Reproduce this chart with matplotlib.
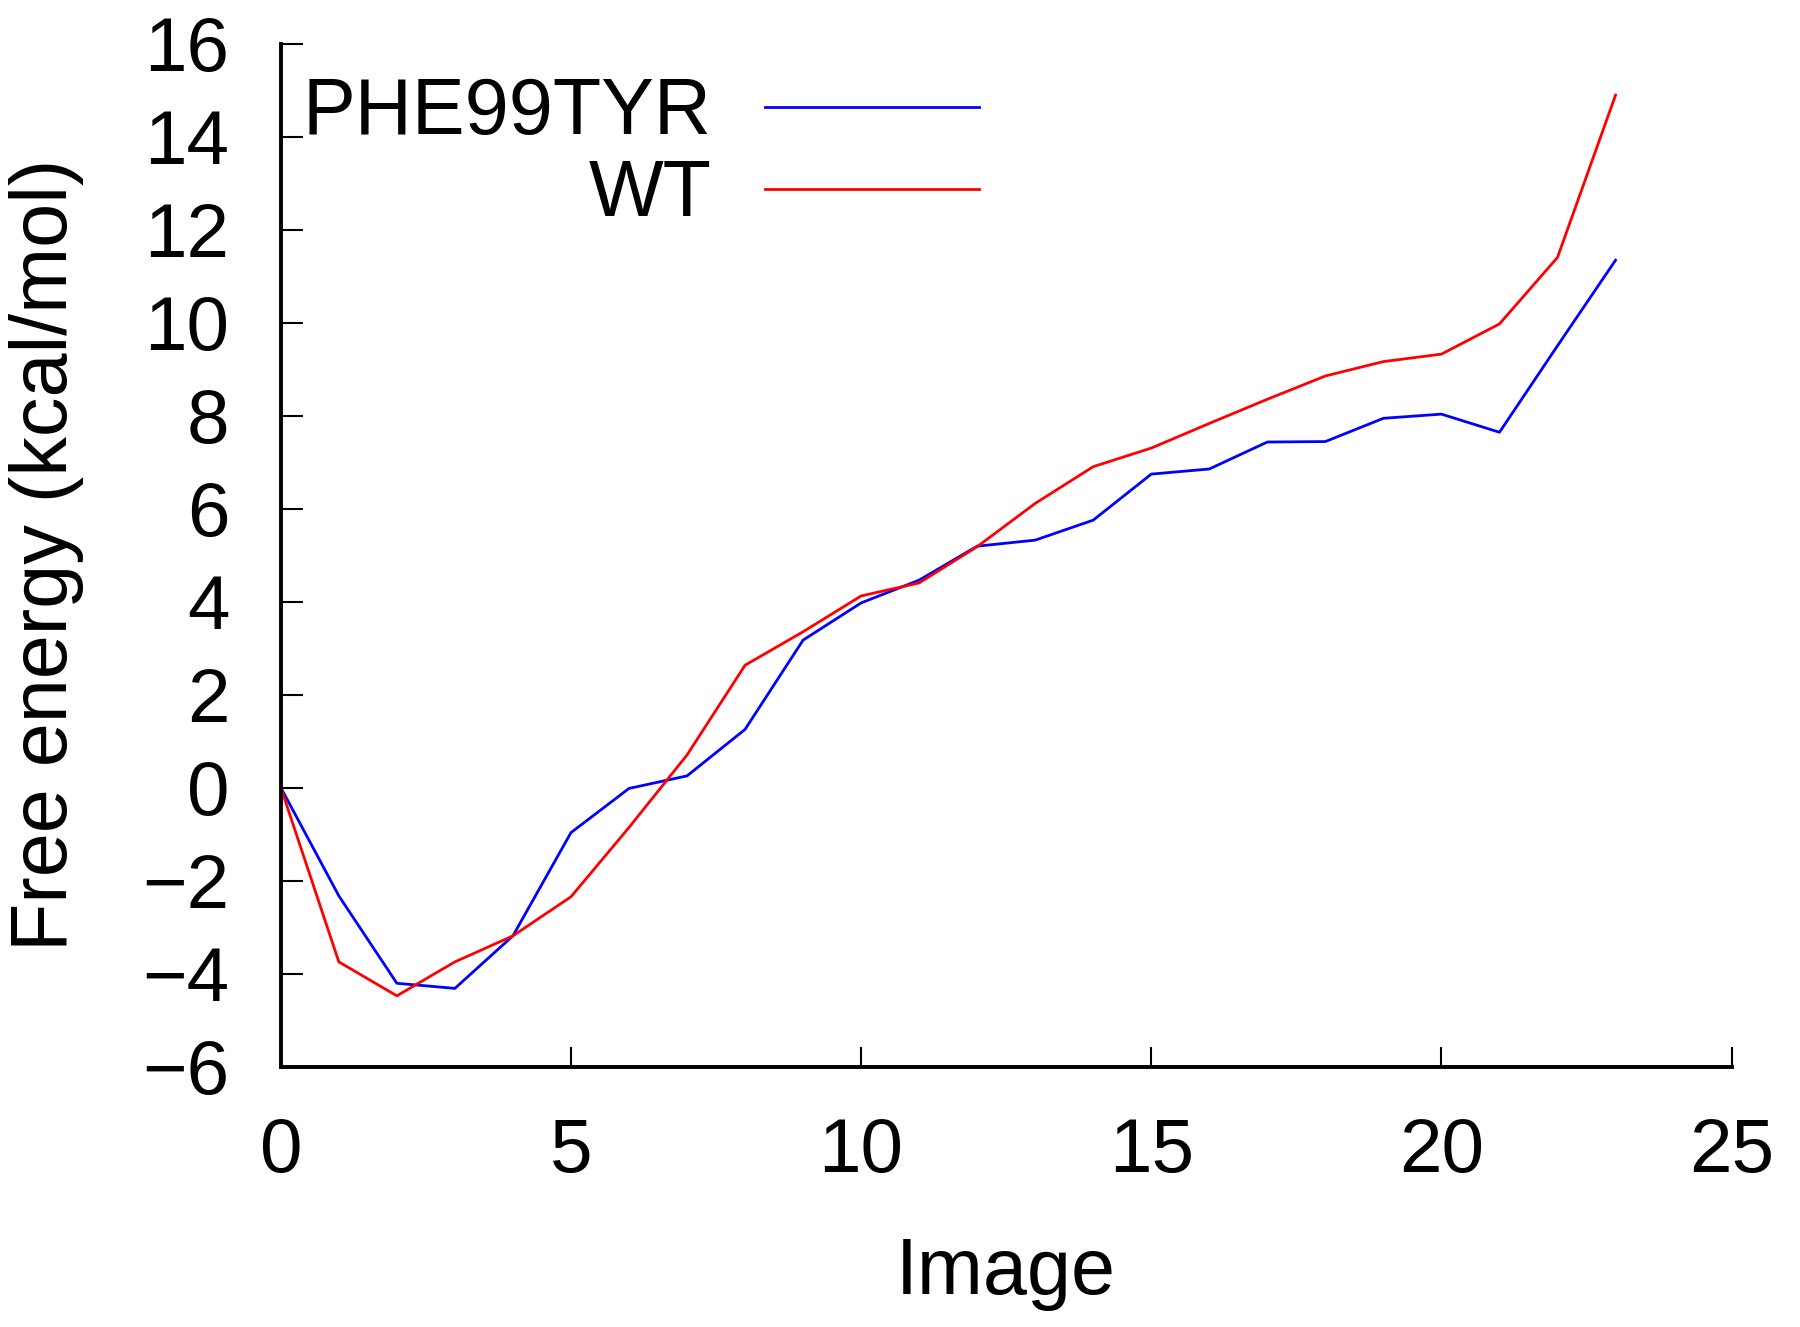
import matplotlib
matplotlib.use("Agg")
import matplotlib.pyplot as plt

plt.rcParams['font.family'] = ['Liberation Sans', 'DejaVu Sans']

images = list(range(24))
phe99tyr = [0.0, -2.33, -4.21, -4.32, -3.19, -0.97, -0.02, 0.25, 1.25, 3.17,
            3.97, 4.46, 5.19, 5.32, 5.75, 6.74, 6.85, 7.43, 7.44, 7.94,
            8.03, 7.64, 9.50, 11.34]
wt = [0.0, -3.75, -4.48, -3.75, -3.19, -2.35, -0.86, 0.70, 2.63, 3.35,
      4.12, 4.40, 5.18, 6.11, 6.90, 7.30, 7.83, 8.35, 8.85, 9.16,
      9.32, 9.97, 11.40, 14.89]
series_labels = ["PHE99TYR", "WT"]
series_colors = ["#0000ff", "#ff0000"]
xticks = [0, 5, 10, 15, 20, 25]
yticks = list(range(-6, 17, 2))

fig = plt.figure(figsize=(18, 13.27), dpi=100)
ax = fig.add_axes([0.156, 0.1963, 0.806, 0.7709])

for vals, lab, col in zip([phe99tyr, wt], series_labels, series_colors):
    ax.plot(images, vals, color=col, lw=2.0, label=lab)

ax.set_xlim(0, 25)
ax.set_ylim(-6, 16)
ax.set_xticks(xticks)
ax.set_yticks(yticks)
ax.spines['top'].set_visible(False)
ax.spines['right'].set_visible(False)
ax.spines['left'].set_linewidth(2.8)
ax.spines['bottom'].set_linewidth(2.8)
ax.tick_params(axis='both', direction='in', labelsize=55, width=1.5)
ax.tick_params(axis='x', length=14.5, pad=36)
ax.tick_params(axis='y', length=16, pad=37)

ax.set_xlabel("Image", fontsize=57, labelpad=35)
ax.set_ylabel("Free energy (kcal/mol)", fontsize=57, labelpad=42)

leg = ax.legend(loc='upper left', bbox_to_anchor=(0.015, 0.968), frameon=False,
                markerfirst=False, fontsize=57, handlelength=2.7,
                handletextpad=0.68, labelspacing=0.09, borderpad=0,
                borderaxespad=0)

fig.savefig("out.png", dpi=100, facecolor="white")
